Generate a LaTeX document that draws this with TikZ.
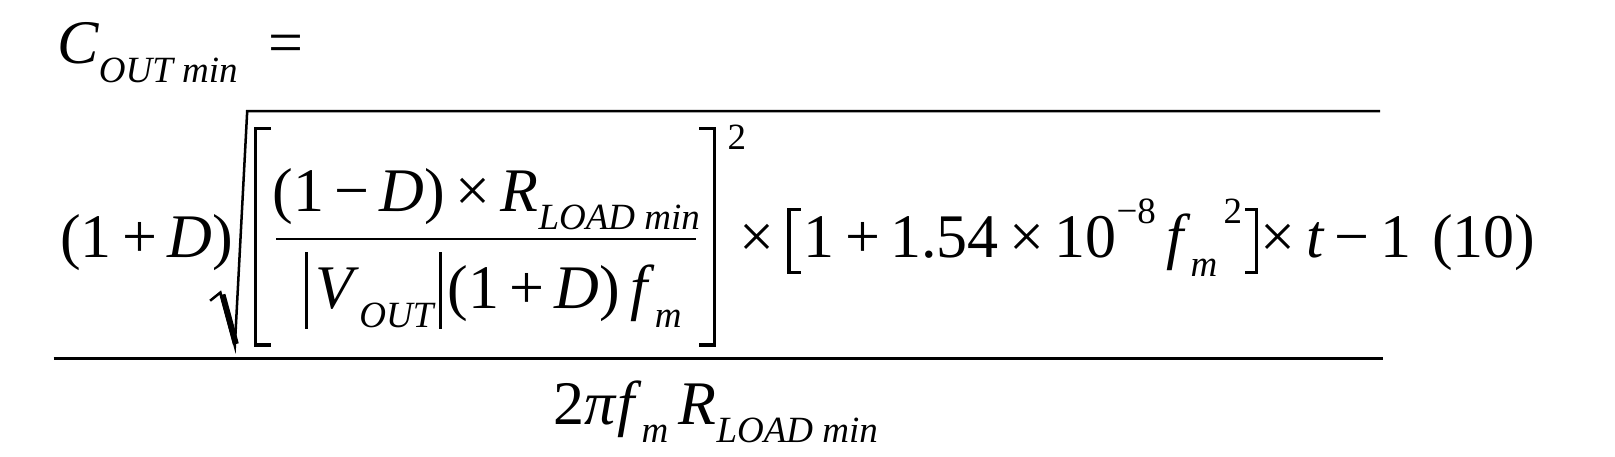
\documentclass[tikz,border=0pt]{standalone}
\usepackage{fontspec}
\setmainfont{Liberation Serif}
\newcommand{\mysb}[1]{\raisebox{-0.3em}{\fontsize{18.5}{20}\selectfont\textit{#1}}}
\newcommand{\mysp}[1]{\raisebox{0.55em}{\fontsize{18.5}{20}\selectfont #1}}
\begin{document}
\begin{tikzpicture}[x=0.515pt,y=-0.515pt,
  t/.style={inner sep=0,anchor=base west,font=\fontsize{31}{36}\selectfont},
  ln/.style={line width=1.35pt},
  br/.style={line width=1.55pt,line cap=rect}]
\node[t] (c) at (55,62) {\textit{C}\mysb{OUT min} \ =};
\node[t] (opd) at (58,250) {(1\,+\,\textit{D})};
\draw[line width=1.25pt,line join=miter] (204,292) -- (214,284) -- (228,336) -- (240,108) -- (1340,108);
\draw[line width=3pt] (216,286) -- (229,334);
\draw[br] (262,125) -- (248,125) -- (248,335) -- (262,335);
\node[t,anchor=base] (num) at (472,205) {(1\,−\,\textit{D})\,×\,\textit{R}\mysb{LOAD min}};
\draw[ln] (268,232) -- (676,232);
\draw[br] (298,246) -- (298,318);
\node[t] (v) at (306,300) {\textit{V}\mysb{OUT}};
\draw[br] (428,246) -- (428,318);
\node[t] (d2) at (434,300) {(1\,+\,\textit{D})\,\textit{f}\mysb{m}};
\draw[br] (680,125) -- (694,125) -- (694,335) -- (680,335);
\node[t] (sq) at (706,145) {\fontsize{18.5}{20}\selectfont 2};
\node[t] (x1) at (718,250) {×};
\node[t] (in) at (780,250) {1\,+\,1.54\,×\,10\mysp{−8}\,\textit{f}\mysb{m}\mysp{\,2}};
\draw[br] (776,203) -- (766,203) -- (766,265) -- (776,265);
\draw[br] ([xshift=2pt]in.east |- 0,203) -- ([xshift=7pt]in.east |- 0,203) -- ([xshift=7pt]in.east |- 0,265) -- ([xshift=2pt]in.east |- 0,265);
\node[t,anchor=base west] (tt) at ([xshift=9pt]in.base east) {×\,\textit{t}\,−\,1};
\node[t] (eq) at (1390,250) {(10)};
\draw[ln] (52,348) -- (1343,348);
\node[t,anchor=base] (den) at (695,412) {2\textit{π}\textit{f}\mysb{m}\,\textit{R}\mysb{LOAD min}};
\pgfresetboundingbox
\path[use as bounding box] (0,0) rectangle (1568,443);
\end{tikzpicture}
\end{document}
